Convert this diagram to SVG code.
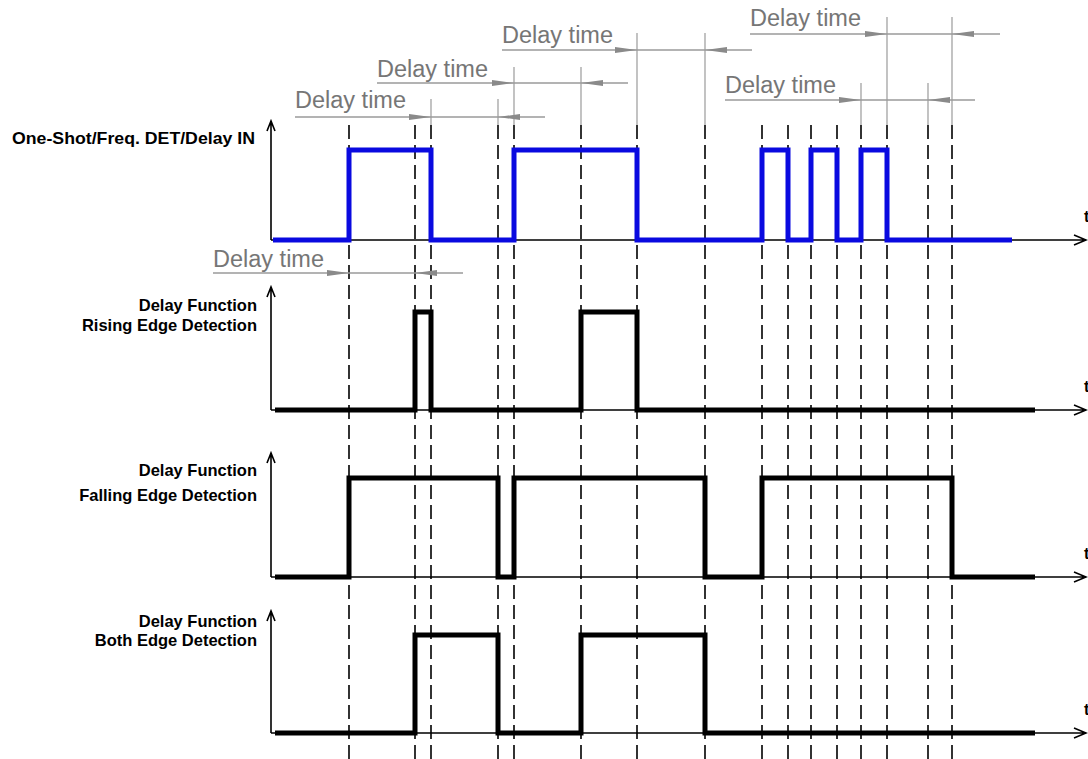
<svg xmlns="http://www.w3.org/2000/svg" xmlns:xlink="http://www.w3.org/1999/xlink" width="1088" height="759" viewBox="0 0 1088 759">
<style>
.lbl{font-family:"Liberation Sans",Arial,sans-serif;font-weight:bold;font-size:16.5px;fill:#000;text-anchor:end}
.t{font-family:"Liberation Sans",Arial,sans-serif;font-weight:bold;font-size:16px;fill:#000}
.dt{font-family:"Liberation Sans",Arial,sans-serif;font-size:23.5px;fill:#767676}
.axis{stroke:#000;stroke-width:1.6;fill:none}
.sig{stroke:#000;stroke-width:5;fill:none;stroke-linejoin:miter}
.blue{stroke:#0a0ae0;stroke-width:5;fill:none}
.dash{stroke:#000;stroke-width:1.6;stroke-dasharray:14 6}
.ext{stroke:#9a9a9a;stroke-width:1.2}
.dim{stroke:#9a9a9a;stroke-width:1.4}
.ah{fill:#8a8a8a}
</style>
<defs>
<path id="ar" d="M0,0 L-22,-3 L-22,3 Z"/>
</defs>
<rect width="1088" height="759" fill="#fff"/>

<g id="guides">
<g class="dash">
<line x1="349" y1="125" x2="349" y2="759"/>
<line x1="415" y1="125" x2="415" y2="759"/>
<line x1="431" y1="125" x2="431" y2="759"/>
<line x1="498" y1="125" x2="498" y2="759"/>
<line x1="514" y1="125" x2="514" y2="759"/>
<line x1="581" y1="125" x2="581" y2="759"/>
<line x1="637" y1="125" x2="637" y2="759"/>
<line x1="705" y1="125" x2="705" y2="759"/>
<line x1="762" y1="125" x2="762" y2="759"/>
<line x1="788" y1="125" x2="788" y2="759"/>
<line x1="811" y1="125" x2="811" y2="759"/>
<line x1="837" y1="125" x2="837" y2="759"/>
<line x1="861" y1="125" x2="861" y2="759"/>
<line x1="887" y1="125" x2="887" y2="759"/>
<line x1="928" y1="125" x2="928" y2="759"/>
<line x1="952" y1="125" x2="952" y2="759"/>
</g>
<g class="ext">
<line x1="431" y1="99" x2="431" y2="125"/>
<line x1="498" y1="99" x2="498" y2="125"/>
<line x1="514" y1="67" x2="514" y2="125"/>
<line x1="581" y1="67" x2="581" y2="125"/>
<line x1="637" y1="33" x2="637" y2="125"/>
<line x1="705" y1="33" x2="705" y2="125"/>
<line x1="861" y1="83" x2="861" y2="125"/>
<line x1="928" y1="83" x2="928" y2="125"/>
<line x1="887" y1="17" x2="887" y2="125"/>
<line x1="952" y1="17" x2="952" y2="125"/>
</g>
</g>

<g id="connectors">
<g id="delay-a">
<line class="dim" x1="295" y1="117" x2="545" y2="117"/>
<use xlink:href="#ar" class="ah" transform="translate(431,117)"/>
<use xlink:href="#ar" class="ah" transform="translate(498,117) scale(-1,1)"/>
<text class="dt" x="295" y="108">Delay time</text>
</g>
<g id="delay-b">
<line class="dim" x1="377" y1="83" x2="628" y2="83"/>
<use xlink:href="#ar" class="ah" transform="translate(514,83)"/>
<use xlink:href="#ar" class="ah" transform="translate(581,83) scale(-1,1)"/>
<text class="dt" x="377" y="77">Delay time</text>
</g>
<g id="delay-c">
<line class="dim" x1="502" y1="50" x2="752" y2="50"/>
<use xlink:href="#ar" class="ah" transform="translate(637,50)"/>
<use xlink:href="#ar" class="ah" transform="translate(705,50) scale(-1,1)"/>
<text class="dt" x="502" y="43">Delay time</text>
</g>
<g id="delay-d">
<line class="dim" x1="750" y1="34" x2="1000" y2="34"/>
<use xlink:href="#ar" class="ah" transform="translate(887,34)"/>
<use xlink:href="#ar" class="ah" transform="translate(952,34) scale(-1,1)"/>
<text class="dt" x="750" y="26">Delay time</text>
</g>
<g id="delay-e">
<line class="dim" x1="725" y1="100" x2="975" y2="100"/>
<use xlink:href="#ar" class="ah" transform="translate(861,100)"/>
<use xlink:href="#ar" class="ah" transform="translate(928,100) scale(-1,1)"/>
<text class="dt" x="725" y="93">Delay time</text>
</g>
<g id="delay-f">
<line class="dim" x1="213" y1="273" x2="463" y2="273"/>
<use xlink:href="#ar" class="ah" transform="translate(349,273)"/>
<use xlink:href="#ar" class="ah" transform="translate(415,273) scale(-1,1)"/>
<text class="dt" x="213" y="267">Delay time</text>
</g>
</g>

<g id="signal-in">
<path class="axis" d="M271,240 V121 M267,131 L271,121 L275,131 M271,240 H1086 M1074,235 L1086,240 L1074,245"/>
<text class="t" x="1084" y="222">t</text>
<text class="lbl" x="255" y="144" textLength="243" lengthAdjust="spacingAndGlyphs">One-Shot/Freq. DET/Delay IN</text>
<path class="blue" d="M273,240 H349 V150 H431 V240 H514 V150 H637 V240 H762 V150 H788 V240 H811 V150 H837 V240 H861 V150 H887 V240 H1012"/>
</g>

<g id="signal-rising">
<path class="axis" d="M271,410 V287 M267,297 L271,287 L275,297 M271,410 H1086 M1074,405 L1086,410 L1074,415"/>
<text class="t" x="1084" y="392">t</text>
<text class="lbl" x="257" y="311">Delay Function</text>
<text class="lbl" x="257" y="331">Rising Edge Detection</text>
<path class="sig" d="M275,410 H415 V312 H431 V410 H581 V312 H637 V410 H1035"/>
</g>

<g id="signal-falling">
<path class="axis" d="M271,577 V453 M267,463 L271,453 L275,463 M271,577 H1086 M1074,572 L1086,577 L1074,582"/>
<text class="t" x="1084" y="559">t</text>
<text class="lbl" x="257" y="476">Delay Function</text>
<text class="lbl" x="257" y="501">Falling Edge Detection</text>
<path class="sig" d="M275,577 H349 V478 H498 V577 H514 V478 H705 V577 H762 V478 H952 V577 H1035"/>
</g>

<g id="signal-both">
<path class="axis" d="M271,733 V611 M267,621 L271,611 L275,621 M271,733 H1086 M1074,728 L1086,733 L1074,738"/>
<text class="t" x="1084" y="715">t</text>
<text class="lbl" x="257" y="627">Delay Function</text>
<text class="lbl" x="257" y="646">Both Edge Detection</text>
<path class="sig" d="M275,733 H415 V635 H498 V733 H581 V635 H705 V733 H1035"/>
</g>
</svg>
